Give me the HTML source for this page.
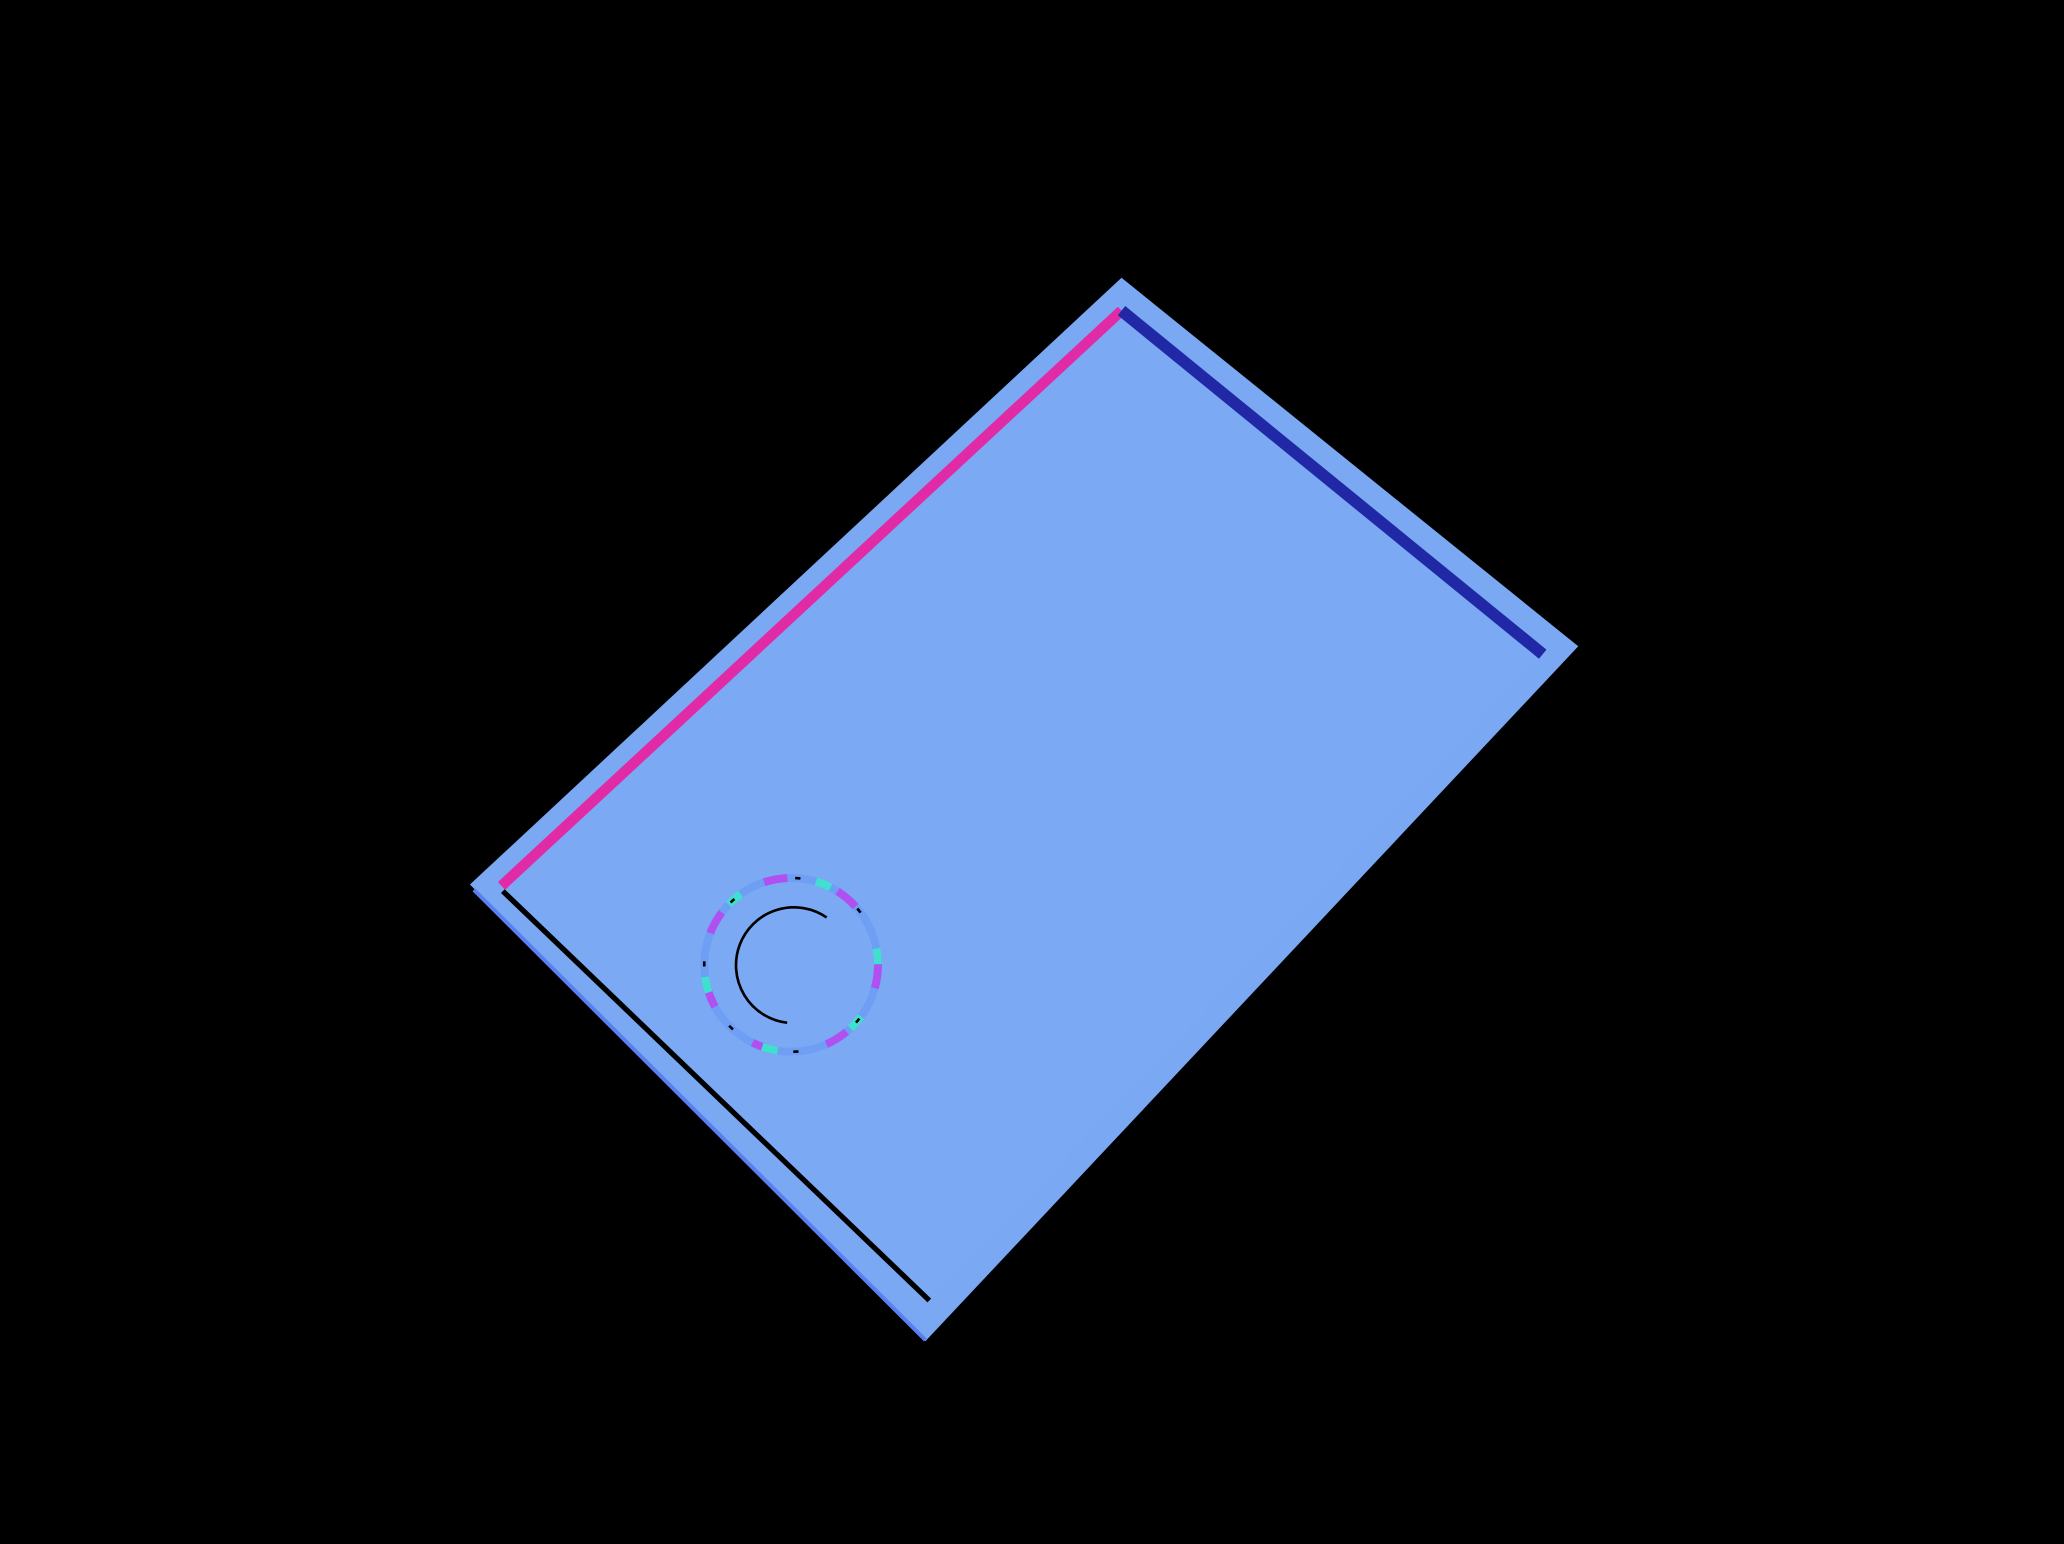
<!DOCTYPE html>
<html><head><meta charset="utf-8"><style>
html,body{margin:0;padding:0;background:#000;width:2064px;height:1544px;overflow:hidden}
svg{display:block}
</style></head><body>
<svg width="2064" height="1544" viewBox="0 0 1568 1173" preserveAspectRatio="none">
<rect x="0" y="0" width="1568" height="1173" fill="#000"/>
<polygon points="852,211 1199,491 703,1019 357,672" fill="#7aa8f3"/>
<polygon points="852,236 1172,497 706,990 381,676" fill="#7ba9f4"/>
<line x1="381" y1="673" x2="852" y2="236" stroke="#e02aa6" stroke-width="8"/>
<line x1="852" y1="236" x2="1172" y2="497" stroke="#2128a6" stroke-width="9"/>
<line x1="382" y1="677" x2="706" y2="988" stroke="#000" stroke-width="4"/>
<line x1="360" y1="676" x2="703" y2="1018" stroke="#5a7ff0" stroke-width="3"/>
<g>
<circle cx="601" cy="733" r="66" fill="none" stroke="#6f9ff5" stroke-width="6"/>
<circle cx="601" cy="733" r="66" fill="none" stroke="#b050f0" stroke-width="6" stroke-dasharray="18 40"/>
<circle cx="601" cy="733" r="66" fill="none" stroke="#40e0d0" stroke-width="6" stroke-dasharray="12 60" stroke-dashoffset="30"/>
<circle cx="601" cy="733" r="66" fill="none" stroke="#000" stroke-width="2" stroke-dasharray="4 50" stroke-dashoffset="10"/>
<path d="M 628 697 A 44 44 0 1 0 598 777" fill="none" stroke="#000" stroke-width="2"/>
</g>
</svg>
</body></html>
